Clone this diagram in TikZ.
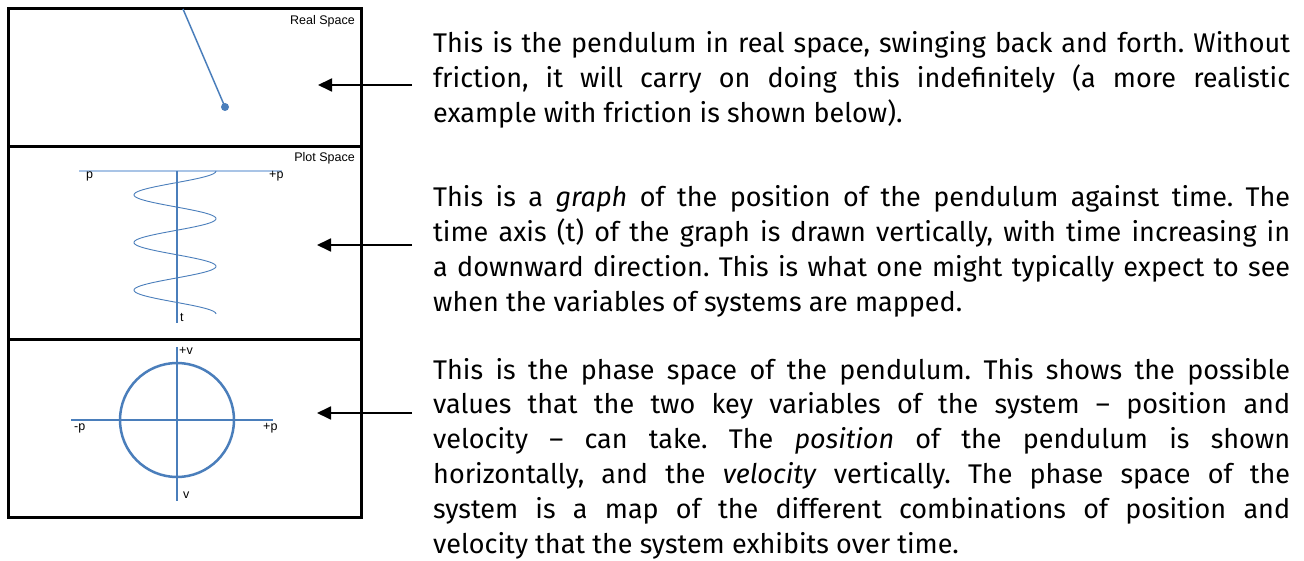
\documentclass[tikz,border=0pt]{standalone}
\usepackage{fontspec}
\setmainfont{Fira Sans}
\newfontfamily\labelfont{Liberation Sans}
\usetikzlibrary{arrows.meta}
\definecolor{pblue}{HTML}{4A7EBB}
\definecolor{lblue}{HTML}{A9C4E6}
\tikzset{
  panel/.style={draw=black, line width=3pt},
  lbl/.style={font=\labelfont\fontsize{12.5}{13}\selectfont, inner sep=0pt, anchor=base west},
  para/.style={text width=857pt, align=justify, inner sep=0pt, anchor=base west,
    font=\fontsize{27}{34.9}\selectfont\frenchspacing},
  pointer/.style={line width=1.8pt, -{Triangle[length=14pt,width=13pt]}},
  curve/.style={pblue, line width=0.9pt},
  axis/.style={pblue, line width=1.2pt},
}
\begin{document}
\begin{tikzpicture}[x=1pt,y=-1pt]
\useasboundingbox (0,0) rectangle (1304,561);
\fill[white] (0,0) rectangle (1304,561);

% panels
\draw[panel] (8,9) rectangle (361,147);
\draw[panel] (8,147) rectangle (361,340);
\draw[panel] (8,340) rectangle (361,517);

% real space
\node[lbl, anchor=base east] (rs) at (355,25) {Real Space};
\draw[pblue, line width=1.5pt] (183,9) -- (225,107);
\fill[pblue] (225,107) circle[radius=4pt];

% plot space
\node[lbl, anchor=base east] (ps) at (355,162) {Plot Space};
\draw[lblue, line width=1.2pt] (79,171) -- (282,171);
\draw[axis] (177,171) -- (177,323);
\draw[curve] plot[domain=0:143, samples=200, smooth] ({175+41*cos(7.552*\x)}, {\x+171});
\node[lbl] (pl) at (86,179) {p};
\node[lbl] (pr) at (269,179) {+p};
\node[lbl] (tl) at (180,322) {t};

% phase space
\draw[axis] (71,420) -- (273,420);
\draw[axis] (177,347) -- (177,501);
\draw[pblue, line width=2.5pt] (177,420) circle[radius=57pt];
\node[lbl] (vt) at (179,355) {+v};
\node[lbl] (ml) at (74,430) {-p};
\node[lbl] (mr) at (263,430) {+p};
\node[lbl] (vb) at (183,498) {v};

% paragraphs
\node[para] (t1) at (433,53) {This is the pendulum in real space, swinging back and forth. Without\linebreak
friction, it will carry on doing this indefinitely (a more realistic\linebreak
example with friction is shown below).};
\node[para] (t2) at (433,207) {This is a \textit{graph} of the position of the pendulum against time. The\linebreak
time axis (t) of the graph is drawn vertically, with time increasing in\linebreak
a downward direction. This is what one might typically expect to see\linebreak
when the variables of systems are mapped.};
\node[para] (t3) at (433,379) {This is the phase space of the pendulum. This shows the possible\linebreak
values that the two key variables of the system -- position and\linebreak
velocity -- can take. The \textit{position} of the pendulum is shown\linebreak
horizontally, and the \textit{velocity} vertically. The phase space of the\linebreak
system is a map of the different combinations of position and\linebreak
velocity that the system exhibits over time.};

% pointers
\coordinate (a1s) at (412,85);  \coordinate (a1e) at (318,85);
\coordinate (a2s) at (412,245); \coordinate (a2e) at (317,245);
\coordinate (a3s) at (412,413); \coordinate (a3e) at (317,413);
\draw[pointer] (a1s) -- (a1e);
\draw[pointer] (a2s) -- (a2e);
\draw[pointer] (a3s) -- (a3e);
\end{tikzpicture}
\end{document}
